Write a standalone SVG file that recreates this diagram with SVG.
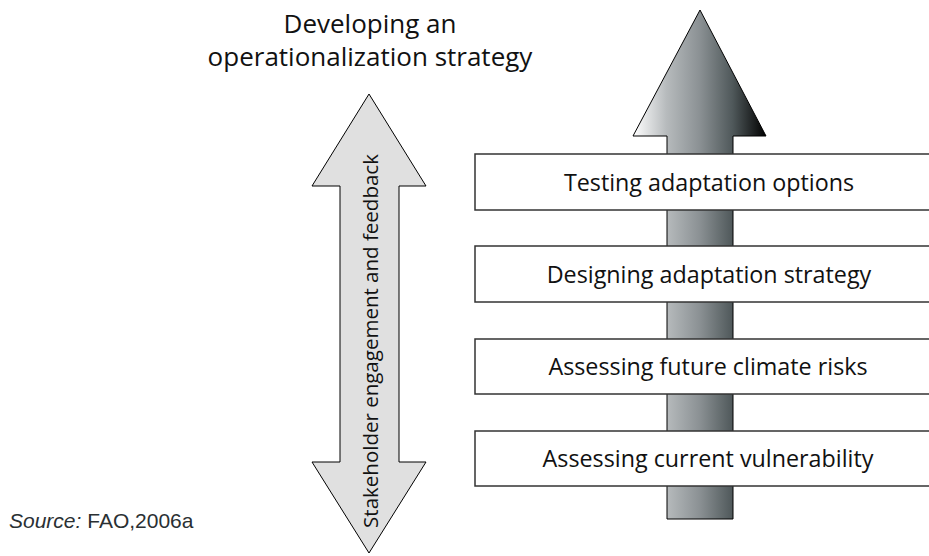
<svg xmlns="http://www.w3.org/2000/svg" width="929" height="556" viewBox="0 0 929 556">
<style>
.t{font-family:"Open Sans","Noto Sans","DejaVu Sans",sans-serif;fill:#111;}
.box{fill:#fff;stroke:#333;stroke-width:1.5;}
.lbl{font-size:23.3px;text-anchor:middle;}
.src{font-family:"Liberation Sans",Arial,sans-serif;font-size:21px;fill:#2a3033;}
</style>
<defs>
<linearGradient id="g" gradientUnits="userSpaceOnUse" x1="633" y1="0" x2="766" y2="0">
<stop offset="0" stop-color="#ffffff"/>
<stop offset="0.25" stop-color="#b7bbbd"/>
<stop offset="0.5" stop-color="#8b9194"/>
<stop offset="0.75" stop-color="#4f585a"/>
<stop offset="1" stop-color="#000000"/>
</linearGradient>
</defs>
<rect width="929" height="556" fill="#fff"/>
<g id="title">
<text class="t" x="370" y="33" font-size="26" text-anchor="middle">Developing an</text>
<text class="t" x="370" y="66" font-size="26" text-anchor="middle">operationalization strategy</text>
</g>
<g id="connectors">
<polygon points="369,94 426,186 399,186 399,462 426,462 369,553 312,462 340,462 340,186 312,186" fill="#e0e0e0" stroke="#000" stroke-width="1"/>
<polygon points="700,10 766,136 733,136 733,519 667,519 667,136 633,136" fill="url(#g)" stroke="#000" stroke-width="1"/>
</g>
<g id="feedback-label">
<text class="t" transform="translate(378,341) rotate(-90)" font-size="20.5" text-anchor="middle">Stakeholder engagement and feedback</text>
</g>
<g id="node-testing">
<rect class="box" x="475" y="154" width="480" height="56"/>
<text class="t lbl" x="709" y="191">Testing adaptation options</text>
</g>
<g id="node-designing">
<rect class="box" x="475" y="246" width="480" height="56"/>
<text class="t lbl" x="709" y="283">Designing adaptation strategy</text>
</g>
<g id="node-future">
<rect class="box" x="475" y="339" width="480" height="55"/>
<text class="t lbl" x="708" y="375">Assessing future climate risks</text>
</g>
<g id="node-current">
<rect class="box" x="475" y="431" width="480" height="55"/>
<text class="t lbl" x="708" y="467">Assessing current vulnerability</text>
</g>
<g id="source">
<text class="src" x="9" y="528"><tspan font-style="italic">Source:</tspan> FAO,2006a</text>
</g>
</svg>
